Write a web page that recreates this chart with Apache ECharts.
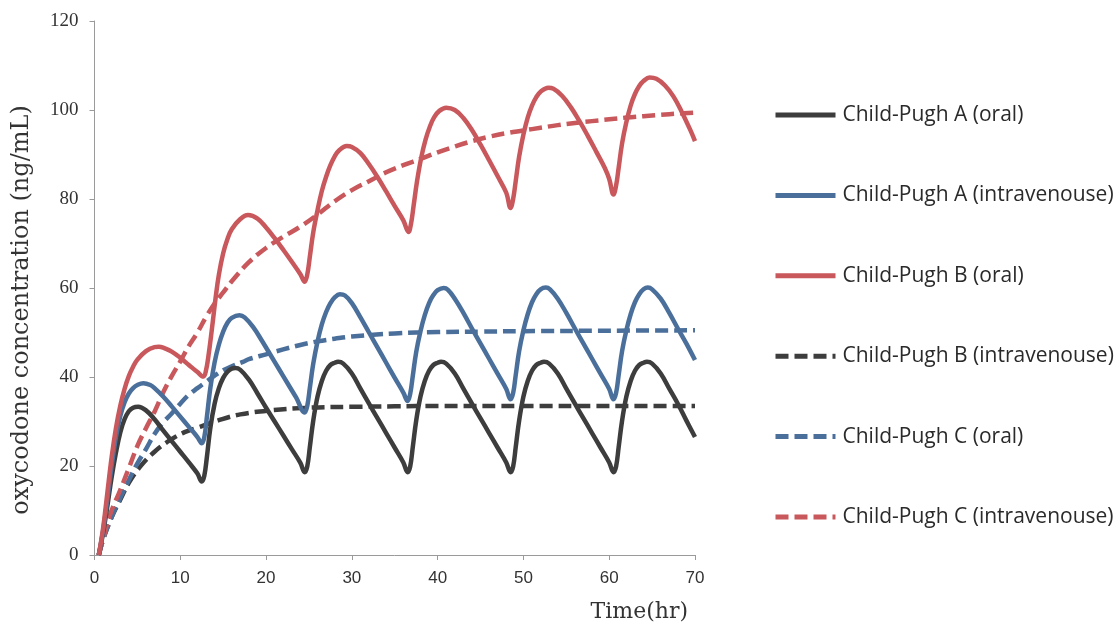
<!DOCTYPE html>
<html>
<head>
<meta charset="utf-8">
<script src="https://cdn.jsdelivr.net/npm/echarts@6/dist/echarts.min.js"></script>
<style>
html,body{margin:0;padding:0;background:#fff;}
#chart{width:1120px;height:631px;}
</style>
</head>
<body>
<div id="chart"></div>
<script>
// ---- Data (time in hr, concentration in ng/mL) ----
const seriesNames = [
  'Child-Pugh A (oral)',
  'Child-Pugh A (intravenouse)',
  'Child-Pugh B (oral)',
  'Child-Pugh B (intravenouse)',
  'Child-Pugh C (oral)',
  'Child-Pugh C (intravenouse)'
];
const xTicks = [0, 10, 20, 30, 40, 50, 60, 70];
const yTicks = [0, 20, 40, 60, 80, 100, 120];

const aOral = [[0.5,0],[1,5],[1.5,11],[2,17.5],[2.5,23],[3,27.5],[3.5,30.5],[4,32.3],[4.5,33.1],[5.1,33.3],[6,32.5],[7,30.5],[8,28],[9,25.6],[10,23.2],[11,20.8],[12,18.3],[12.5,16.5],[12.8,17.8],[13.1,22],[13.5,28.5],[14,34],[14.5,37.5],[15,39.8],[15.5,41.2],[16,41.9],[16.4,42],[17,41.6],[18,39.4],[19,36.3],[20,33.1],[21,30],[22,26.9],[23,23.8],[24,20.7],[24.5,18.6],[24.8,19.9],[25.1,24.2],[25.5,30.2],[26,35.6],[26.5,39.1],[27,41.4],[27.5,42.7],[28,43.2],[28.4,43.4],[29,43],[30,40.8],[31,37.4],[32,34],[33,30.7],[34,27.4],[35,24.1],[36,20.8],[36.5,18.6],[36.8,19.9],[37.1,24.2],[37.5,30.2],[38,35.6],[38.5,39.1],[39,41.4],[39.5,42.7],[40,43.2],[40.4,43.4],[41,43],[42,40.8],[43,37.4],[44,34],[45,30.7],[46,27.4],[47,24.1],[48,20.8],[48.5,18.6],[48.8,19.9],[49.1,24.2],[49.5,30.2],[50,35.6],[50.5,39.1],[51,41.4],[51.5,42.7],[52,43.2],[52.4,43.4],[53,43],[54,40.8],[55,37.4],[56,34],[57,30.7],[58,27.4],[59,24.1],[60,20.8],[60.5,18.6],[60.8,19.9],[61.1,24.2],[61.5,30.2],[62,35.6],[62.5,39.1],[63,41.4],[63.5,42.7],[64,43.2],[64.4,43.4],[65,43],[66,40.8],[67,37.4],[68,34],[69,30.2],[70,26.5]];

const aIv = [[0.5,0],[1,5.5],[1.5,12.5],[2,20],[2.5,26.5],[3,31.2],[3.5,34.3],[4,36.3],[4.5,37.5],[5,38.2],[5.7,38.6],[6.5,38.2],[7,37.5],[8,35.6],[9,33.4],[10,31.1],[11,28.8],[12,26.5],[12.5,25.1],[12.8,26.5],[13.1,31],[13.5,37.5],[14,43.3],[14.5,47.3],[15,50.2],[15.5,52.2],[16,53.3],[16.9,53.9],[17.5,53.4],[18.5,51.2],[19.5,48.2],[20.5,45],[21.5,41.8],[22.5,38.6],[23.5,35.4],[24.5,32],[24.8,33.5],[25.1,37.5],[25.5,43],[26,48],[26.5,51.8],[27,54.6],[27.5,56.6],[28,57.9],[28.6,58.6],[29.2,58.3],[30,56.6],[31,53.4],[32,50],[33,46.6],[34,43.2],[35,39.8],[36,36.5],[36.5,34.6],[36.8,36.2],[37.1,40.2],[37.5,45.6],[38,50.3],[38.5,53.9],[39,56.6],[39.5,58.4],[40,59.5],[40.7,60],[41.2,59.6],[42,57.6],[43,54.4],[44,50.9],[45,47.5],[46,44.1],[47,40.7],[48,37.3],[48.5,35],[48.8,36.4],[49.1,40.4],[49.5,45.8],[50,50.5],[50.5,54.1],[51,56.8],[51.5,58.6],[52,59.7],[52.6,60.1],[53.1,59.7],[54,57.6],[55,54.4],[56,50.9],[57,47.5],[58,44.1],[59,40.7],[60,37.3],[60.5,35],[60.8,36.4],[61.1,40.4],[61.5,45.8],[62,50.5],[62.5,54.1],[63,56.8],[63.5,58.6],[64,59.7],[64.5,60.1],[65,59.7],[66,57.6],[67,54.4],[68,50.9],[69,47.5],[70,43.8]];

const bOral = [[0.5,0],[1,6],[1.5,14],[2,22],[2.5,28.5],[3,33.5],[3.5,37.3],[4,40.2],[4.5,42.3],[5,43.9],[6,45.8],[7,46.7],[7.5,46.8],[8,46.6],[9,45.7],[10,44.3],[11,42.7],[12,41.1],[12.7,40.1],[13,41.5],[13.3,45],[13.7,51],[14.1,57.5],[14.5,63],[15,67.8],[15.5,71],[16,73.2],[17,75.5],[17.9,76.4],[19,75.6],[20,73.6],[21,71.2],[22,68.6],[23,65.9],[24,63.1],[24.5,61.4],[24.8,63],[25.1,67],[25.5,72.5],[26,77.5],[26.5,81.8],[27,85],[27.5,87.6],[28,89.6],[28.5,90.9],[29.4,91.9],[30,91.7],[31,90.3],[32,87.8],[33,84.9],[34,81.7],[35,78.4],[36,75.2],[36.6,72.6],[36.9,74.5],[37.2,78.5],[37.6,84],[38.1,89.4],[38.6,93.4],[39.1,96.3],[39.6,98.4],[40.2,99.8],[41,100.5],[42,100],[43,98.2],[44,95.5],[45,92.2],[46,88.7],[47,85.1],[48,81.4],[48.5,78],[48.8,80],[49.1,84],[49.5,89.5],[50,94.5],[50.5,98.3],[51,101],[51.5,102.9],[52,104.1],[52.9,105],[53.5,104.8],[54.5,103.2],[55.5,100.7],[56.5,97.6],[57.5,94.2],[58.5,90.6],[59.5,86.9],[60,84.5],[60.5,81],[60.8,83],[61.1,87],[61.5,92.5],[62,97.3],[62.5,101],[63,103.6],[63.5,105.4],[64,106.5],[64.7,107.3],[65.5,107],[66.5,105.5],[67.5,103],[68.5,99.4],[69.5,95.3],[70,93]];

const bIv = [[0.5,0],[1,3.5],[2,8.5],[3,12.4],[4,16.2],[5.3,19.8],[7,23.2],[8.8,25.8],[10.5,27.6],[12.3,28.8],[14.5,30.3],[17,31.6],[20.5,32.5],[25,33.1],[30,33.3],[35,33.4],[40,33.5],[50,33.5],[60,33.5],[70,33.5]];

const cOral = [[0.5,0],[1,3.5],[2,8.5],[3,12.8],[4,16.8],[5,20.6],[6,23.8],[7,27.2],[8,29.8],[9,31.8],[10,34],[11,36],[12,37.5],[13,38.9],[14,40.3],[15,41.5],[16,42.4],[17.3,43.4],[18,44],[20,45.1],[22,46.2],[24,47.2],[26,48],[28,48.6],[30,49.1],[35,49.8],[40,50.1],[45,50.2],[50,50.3],[60,50.4],[70,50.5]];

const cIv = [[0.5,0],[1,3.5],[1.8,9],[3,14.6],[4,19.5],[5,24.5],[6,28.5],[7,32.2],[8,36.5],[9,40.2],[10,43.5],[11,47],[12,50],[13,53.5],[14,56.5],[15,59],[16,61.5],[18,65.8],[20,69],[22,71.5],[24,73.8],[26,76.5],[28,79.5],[30,82],[32,84],[34,86],[36,87.6],[38,89],[40,90.5],[42,91.8],[44,93],[46,94],[48,94.8],[50,95.4],[52,96],[54,96.6],[56,97.1],[58,97.5],[60,97.9],[62,98.3],[64,98.6],[66,98.9],[68,99.2],[70,99.4]];

// ---- Styles ----
const BLACK = '#3d3d3d', BLUE = '#4b6f9b', RED = '#c9585c';
const seriesData = [aOral, aIv, bOral, bIv, cOral, cIv];
const seriesColors = [BLACK, BLUE, RED, BLACK, BLUE, RED];
const seriesDash = ['solid', 'solid', 'solid', [13, 6], [13, 6], [13, 6]];

const chart = echarts.init(document.getElementById('chart'), null, {renderer: 'canvas'});

const series = seriesNames.map((name, i) => ({
  name: name,
  type: 'line',
  data: seriesData[i],
  symbol: 'none',
  showSymbol: false,
  smooth: 0.4,
  z: i < 3 ? 3 : 2,
  lineStyle: {color: seriesColors[i], width: 4.5, type: seriesDash[i], join: 'round'},
  itemStyle: {color: seriesColors[i]}
}));

chart.setOption({
  animation: false,
  backgroundColor: '#fff',
  grid: {left: 94.5, right: 425, top: 21, bottom: 76, containLabel: false},
  xAxis: {
    type: 'value', min: 0, max: 70, interval: 10,
    axisLine: {show: true, lineStyle: {color: '#9a9a9a', width: 1}},
    axisTick: {show: true, length: 5, lineStyle: {color: '#9a9a9a'}},
    splitLine: {show: false},
    axisLabel: {
      margin: 15, color: '#333', fontFamily: 'Liberation Sans', fontSize: 17,
      formatter: v => xTicks.indexOf(v) >= 0 ? String(v) : ''
    }
  },
  yAxis: {
    type: 'value', min: 0, max: 120, interval: 20,
    axisLine: {show: true, lineStyle: {color: '#9a9a9a', width: 1}},
    axisTick: {show: true, length: 5, lineStyle: {color: '#9a9a9a'}},
    splitLine: {show: false},
    axisLabel: {
      margin: 16, color: '#333', fontFamily: 'Liberation Serif', fontSize: 19,
      formatter: v => yTicks.indexOf(v) >= 0 ? String(v) : ''
    }
  },
  legend: {
    orient: 'vertical', left: 773, top: 104.5, padding: 0,
    itemWidth: 60, itemHeight: 16, itemGap: 59.4,
    itemStyle: {opacity: 0, borderWidth: 0},
    lineStyle: {width: 5},
    textStyle: {fontFamily: 'Open Sans', fontSize: 21, color: '#2a2a2a', padding: [0, 0, 0, 2]},
    data: seriesNames
  },
  graphic: [
    {type: 'text', x: 22, y: 310, rotation: Math.PI / 2,
     style: {text: 'oxycodone concentration (ng/mL)', font: '24px "DejaVu Serif"', fill: '#333',
             align: 'center', verticalAlign: 'middle'}},
    {type: 'text', x: 688, y: 612,
     style: {text: 'Time(hr)', font: '22px "DejaVu Serif"', fill: '#333',
             align: 'right', verticalAlign: 'middle'}}
  ],
  series: series
});
</script>
</body>
</html>
